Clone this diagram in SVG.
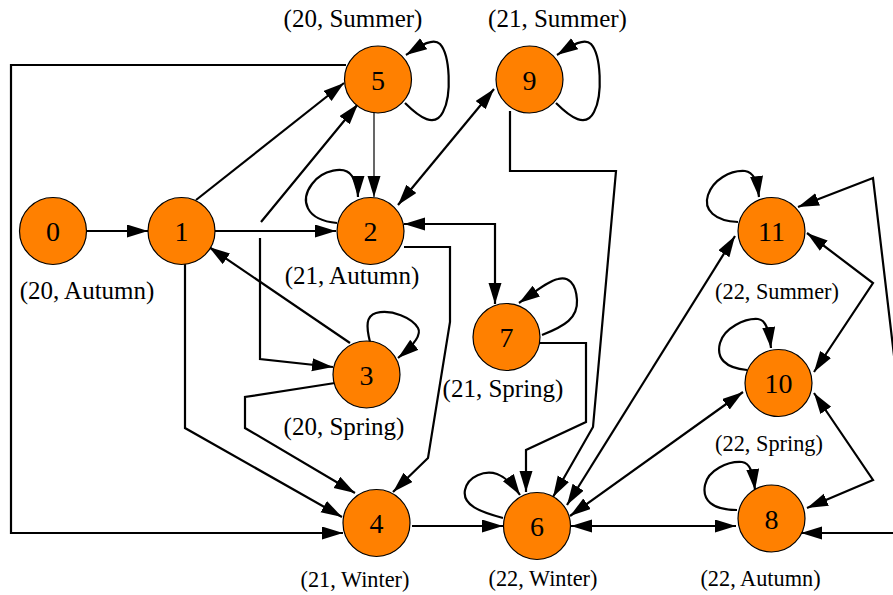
<svg xmlns="http://www.w3.org/2000/svg" width="893" height="595" viewBox="0 0 893 595">
<style>
.e{fill:none;stroke:#000;stroke-width:2.2;marker-end:url(#ah)}
.b{marker-start:url(#ah)}
.thin{stroke-width:1.2}
.n circle{fill:#ff8000;stroke:#000;stroke-width:1.2}
.n text{font-family:"Liberation Serif","Times New Roman",serif;font-size:28px;text-anchor:middle;fill:#000}
.l{font-family:"Liberation Serif","Times New Roman",serif;font-size:25px;text-anchor:middle;fill:#000}
.s{font-size:22.3px}
</style>
<defs>
<marker id="ah" markerUnits="userSpaceOnUse" markerWidth="22" markerHeight="14" refX="21" refY="6.5" orient="auto-start-reverse" viewBox="0 0 22 14">
<path d="M0,0 L21,6.5 L0,13 Z" fill="#000"/>
</marker>
</defs>
<rect width="893" height="595" fill="#fff"/>
<g id="edges">
<path class="e" d="M87,231 L148,231"/>
<path class="e" d="M196,200 L344,83"/>
<path class="e b" d="M358,104 L261,222 M260,238 L260,359 L333,367"/>
<path class="e thin" d="M374,112 L374,197"/>
<path class="e" d="M337,223 C305,220 300,200 312,184 C322,170 345,165 352,176 C356,182 358,188 358,197"/>
<path class="e" d="M405,103 C420,118 435,128 443,112 C452,95 450,55 440,44 C433,37 420,46 406,55"/>
<path class="e" d="M556,103 C571,118 586,128 594,112 C603,95 601,55 591,44 C584,37 571,46 557,55"/>
<path class="e b" d="M398,205 L494,89"/>
<path class="e" d="M215,231 L336,231"/>
<path class="e b" d="M404,224 L495,224 L495,304"/>
<path class="e" d="M404,247 L450,247 L450,322 L428,458 L393,492"/>
<path class="e" d="M370,342 C366,326 366,316 376,313 C392,309 412,318 418,328 C422,335 414,345 398,358"/>
<path class="e" d="M350,343 L209,247"/>
<path class="e" d="M185,263 L185,428 L342,517"/>
<path class="e" d="M335,383 L245,397 L245,428 L355,493"/>
<path class="e" d="M346,65 L11,65 L11,533 L343,533"/>
<path class="e" d="M412,526 L503,526"/>
<path class="e" d="M510,111 L510,171 L616,171 L593,427 L553,497"/>
<path class="e" d="M540,343 L586,343 L586,422 L526,450 L526,492"/>
<path class="e" d="M542,335 C565,326 578,318 577,300 C576,283 568,276 558,279 C548,281 535,292 519,303"/>
<path class="e" d="M503,518 C480,512 462,505 465,490 C468,476 485,470 497,474 C505,477 512,483 520,495"/>
<path class="e b" d="M571,526 L736,526"/>
<path class="e b" d="M570,516 L743,392"/>
<path class="e b" d="M567,505 L735,236"/>
<path class="e b" d="M807,233 L873,283 L814,372"/>
<path class="e b" d="M814,393 L873,480 L807,508"/>
<path class="e b" d="M801,533 L915,533 L873,178 L798,207"/>
<path class="e" d="M738,222 C715,221 703,210 708,195 C713,180 730,170 745,171 C753,172 757,180 759,197"/>
<path class="e" d="M747,370 C725,368 716,358 720,343 C724,328 745,318 758,319 C766,320 769,330 771,348"/>
<path class="e" d="M737,510 C712,510 702,500 705,485 C708,470 728,461 742,462 C750,463 753,472 755,490"/>
</g>
<g id="node0" class="n"><circle cx="53" cy="231" r="33.5"/><text x="53" y="241">0</text></g>
<g id="node1" class="n"><circle cx="181.5" cy="231" r="33.5"/><text x="181.5" y="241">1</text></g>
<g id="node2" class="n"><circle cx="370.5" cy="231" r="33.5"/><text x="370.5" y="241">2</text></g>
<g id="node3" class="n"><circle cx="366.5" cy="374.5" r="33.5"/><text x="366.5" y="384.5">3</text></g>
<g id="node4" class="n"><circle cx="376.5" cy="523" r="33.5"/><text x="376.5" y="533">4</text></g>
<g id="node5" class="n"><circle cx="378" cy="79.5" r="33.5"/><text x="378" y="89.5">5</text></g>
<g id="node6" class="n"><circle cx="537" cy="526" r="33.5"/><text x="537" y="536">6</text></g>
<g id="node7" class="n"><circle cx="506.5" cy="337" r="33.5"/><text x="506.5" y="347">7</text></g>
<g id="node8" class="n"><circle cx="771.5" cy="518.5" r="33.5"/><text x="771.5" y="528.5">8</text></g>
<g id="node9" class="n"><circle cx="529.5" cy="79.5" r="33.5"/><text x="529.5" y="89.5">9</text></g>
<g id="node10" class="n"><circle cx="778.5" cy="383" r="33.5"/><text x="778.5" y="393">10</text></g>
<g id="node11" class="n"><circle cx="771.5" cy="231" r="33.5"/><text x="771.5" y="241">11</text></g>
<g id="labels">
<text class="l" x="353" y="27">(20, Summer)</text>
<text class="l" x="557.5" y="27">(21, Summer)</text>
<text class="l" x="87" y="299">(20, Autumn)</text>
<text class="l" x="352" y="284">(21, Autumn)</text>
<text class="l" x="344" y="435">(20, Spring)</text>
<text class="l" x="503" y="397">(21, Spring)</text>
<text class="l s" x="355" y="587">(21, Winter)</text>
<text class="l s" x="543" y="586">(22, Winter)</text>
<text class="l s" x="777" y="299">(22, Summer)</text>
<text class="l s" x="769" y="451">(22, Spring)</text>
<text class="l s" x="760.5" y="586">(22, Autumn)</text>
</g>
</svg>
